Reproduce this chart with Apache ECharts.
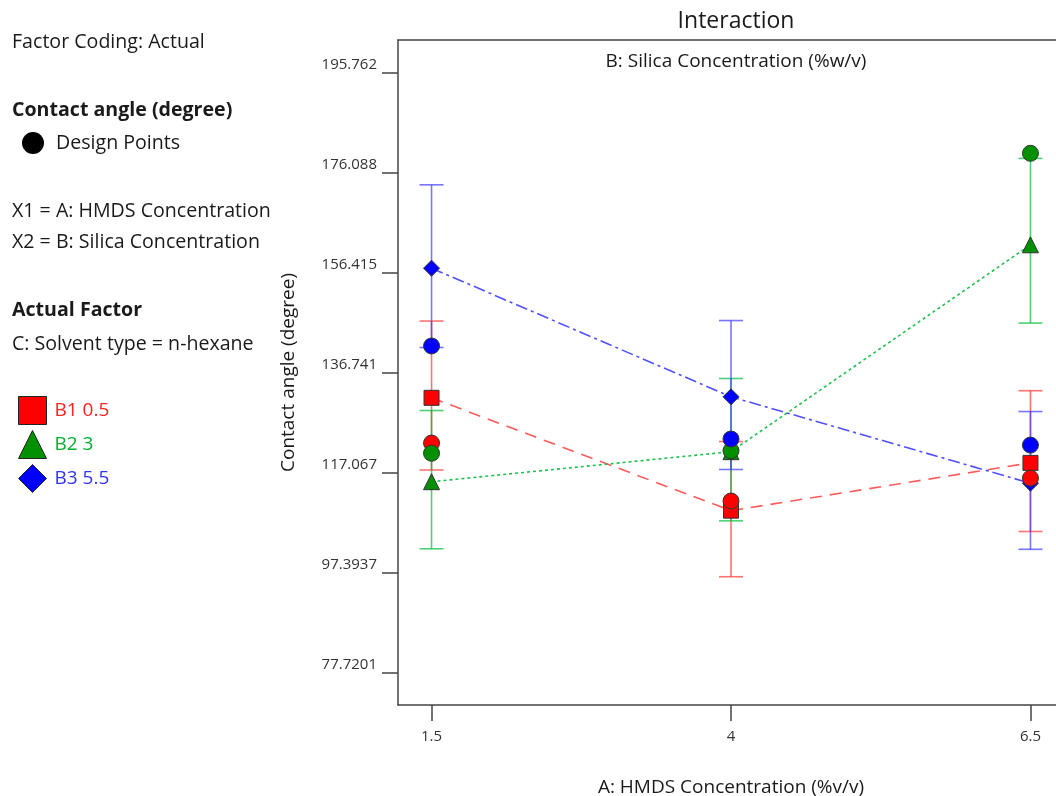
<!DOCTYPE html>
<html>
<head>
<meta charset="utf-8">
<script src="https://cdn.jsdelivr.net/npm/echarts@6/dist/echarts.min.js"></script>
<style>
  html, body { margin: 0; padding: 0; background: #fff; overflow: hidden; }
  #chart { width: 1100px; height: 796px; }
</style>
</head>
<body>
<div id="chart"></div>
<script>
// x levels (A: HMDS Concentration)
const xLevels = [1.5, 4, 6.5];
const xTickLabels = ['1.5', '4', '6.5'];
const yTickLabels = ['77.7201', '97.3937', '117.067', '136.741', '156.415', '176.088', '195.762'];

// predicted means + interval bounds, one array per silica level
const b1Pred = [131.8, 109.6, 119.0];
const b1Low = [117.6, 96.6, 105.5];
const b1High = [146.9, 123.2, 133.2];
const b1Design = [122.9, 111.5, 116.0];

const b2Pred = [115.3, 121.2, 161.9];
const b2Low = [102.1, 107.6, 146.5];
const b2High = [129.3, 135.6, 178.9];
const b2Design = [120.9, 121.4, 179.9];

const b3Pred = [157.3, 132.0, 115.0];
const b3Low = [141.7, 117.7, 102.0];
const b3High = [173.7, 147.0, 129.1];
const b3Design = [142.0, 123.7, 122.5];

const FONT = '"Open Sans", "Noto Sans", sans-serif';

const groups = [
  { name: 'B1 0.5', pred: b1Pred, low: b1Low, high: b1High, design: b1Design,
    mark: '#ff0000', bar: 'rgba(255,40,40,0.65)', line: '#ff5a5a', text: '#ff2020',
    symbol: 'rect', dash: [12, 8], size: 15 },
  { name: 'B2 3', pred: b2Pred, low: b2Low, high: b2High, design: b2Design,
    mark: '#009000', bar: 'rgba(0,190,60,0.7)', line: '#20c050', text: '#00b030',
    symbol: 'triangle', dash: [3, 3], size: 16 },
  { name: 'B3 5.5', pred: b3Pred, low: b3Low, high: b3High, design: b3Design,
    mark: '#0000ff', bar: 'rgba(60,60,255,0.7)', line: '#5050ff', text: '#3030ff',
    symbol: 'diamond', dash: [12, 4, 3, 4], size: 16 }
];

const series = [];
groups.forEach(g => {
  series.push({
    name: g.name + ' bars',
    type: 'custom',
    z: 2,
    data: xLevels.map((x, i) => [x, g.low[i], g.high[i]]),
    renderItem: (params, api) => {
      const top = api.coord([api.value(0), api.value(2)]);
      const bot = api.coord([api.value(0), api.value(1)]);
      const hw = 12;
      const style = { stroke: g.bar, lineWidth: 1.6 };
      return {
        type: 'group',
        children: [
          { type: 'line', shape: { x1: top[0], y1: top[1], x2: bot[0], y2: bot[1] }, style },
          { type: 'line', shape: { x1: top[0] - hw, y1: top[1], x2: top[0] + hw, y2: top[1] }, style },
          { type: 'line', shape: { x1: bot[0] - hw, y1: bot[1], x2: bot[0] + hw, y2: bot[1] }, style }
        ]
      };
    }
  });
});
groups.forEach(g => {
  series.push({
    name: g.name,
    type: 'line',
    z: 3,
    data: xLevels.map((x, i) => [x, g.pred[i]]),
    symbol: g.symbol,
    symbolSize: g.size,
    showAllSymbol: true,
    color: g.mark,
    lineStyle: { color: g.line, width: 1.6, type: g.dash },
    itemStyle: { color: g.mark, borderColor: '#333', borderWidth: 1, opacity: 1 },
    emphasis: { disabled: true }
  });
});
groups.forEach(g => {
  series.push({
    name: g.name + ' design',
    type: 'scatter',
    z: 4,
    data: xLevels.map((x, i) => [x, g.design[i]]),
    symbol: 'circle',
    symbolSize: 16,
    itemStyle: { color: g.mark, borderColor: '#333', borderWidth: 1, opacity: 1 }
  });
});

const leftText = [
  { t: 'Factor Coding: Actual', y: 42, bold: false },
  { t: 'Contact angle (degree)', y: 110, bold: true },
  { t: 'Design Points', y: 143, bold: false, x: 56 },
  { t: 'X1 = A: HMDS Concentration', y: 211, bold: false },
  { t: 'X2 = B: Silica Concentration', y: 242, bold: false },
  { t: 'Actual Factor', y: 310, bold: true },
  { t: 'C: Solvent type = n-hexane', y: 344, bold: false }
];

const graphic = leftText.map(o => ({
  type: 'text',
  x: o.x || 12,
  y: o.y,
  style: { text: o.t, font: (o.bold ? 'bold ' : '') + '19.6px ' + FONT, fill: '#1a1a1a', verticalAlign: 'middle' }
}));
graphic.push({ type: 'circle', shape: { cx: 33, cy: 143, r: 11 }, style: { fill: '#000' } });

const axisColor = '#444';

const chart = echarts.init(document.getElementById('chart'));
chart.setOption({
  animation: false,
  textStyle: { fontFamily: FONT },
  title: [
    { text: 'Interaction', left: 731, textAlign: 'center', top: 5,
      textStyle: { fontSize: 23, fontWeight: 'normal', color: '#1a1a1a', fontFamily: FONT } },
    { text: 'B: Silica Concentration (%w/v)', left: 731, textAlign: 'center', top: 47,
      textStyle: { fontSize: 19, fontWeight: 'normal', color: '#1a1a1a', fontFamily: FONT } }
  ],
  legend: {
    orient: 'vertical',
    left: 18,
    top: 396,
    padding: 0,
    itemWidth: 28,
    itemHeight: 28,
    itemGap: 5,
    selectedMode: false,
    data: groups.map(g => ({
      name: g.name,
      icon: g.symbol,
      itemStyle: { color: g.mark, borderColor: '#222', borderWidth: 1 },
      textStyle: { color: g.text, fontSize: 19, fontFamily: FONT, padding: [0, 0, 0, 3] }
    }))
  },
  graphic: graphic,
  grid: {
    left: 398, top: 40, width: 666, height: 665,
    outerBoundsMode: 'none',
    show: false, containLabel: false
  },
  xAxis: [{
    type: 'value',
    min: 1.22, max: 6.78,
    name: 'A: HMDS Concentration (%v/v)',
    nameLocation: 'middle',
    nameGap: 73,
    nameTextStyle: { fontSize: 19, color: '#1a1a1a', fontFamily: FONT },
    axisLine: { show: true, lineStyle: { color: axisColor, width: 1.5 } },
    axisTick: { show: true, length: 16, lineStyle: { color: axisColor, width: 1.5 }, customValues: xLevels },
    axisLabel: {
      margin: 24, fontSize: 15, color: '#333', fontFamily: FONT,
      customValues: xLevels,
      formatter: v => xTickLabels[xLevels.indexOf(v)] || ''
    },
    splitLine: { show: false }
  }, {
    // top frame line only
    type: 'value',
    position: 'top',
    min: 1.22, max: 6.78,
    axisLine: { show: true, onZero: false, lineStyle: { color: axisColor, width: 1.5 } },
    axisTick: { show: false },
    axisLabel: { show: false },
    splitLine: { show: false }
  }],
  yAxis: {
    type: 'value',
    min: 71.37, max: 202.19,
    name: 'Contact angle (degree)',
    nameLocation: 'middle',
    nameGap: 100,
    nameTextStyle: { fontSize: 19, color: '#1a1a1a', fontFamily: FONT },
    axisLine: { show: true, lineStyle: { color: axisColor, width: 1.5 } },
    axisTick: { show: true, length: 16, lineStyle: { color: axisColor, width: 1.5 },
      customValues: yTickLabels.map(Number) },
    axisLabel: {
      margin: 21, fontSize: 15, color: '#333', fontFamily: FONT,
      verticalAlign: 'bottom',
      customValues: yTickLabels.map(Number),
      formatter: v => {
        const i = yTickLabels.map(Number).indexOf(v);
        return i >= 0 ? yTickLabels[i] : '';
      }
    },
    splitLine: { show: false }
  },
  series: series
});
</script>
</body>
</html>
